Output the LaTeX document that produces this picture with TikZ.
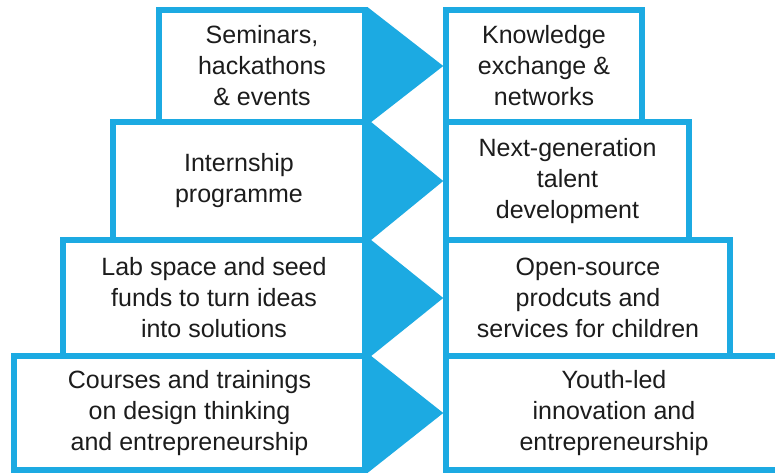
\documentclass[tikz,border=0pt]{standalone}
\usepackage{fontspec}
\setmainfont{Liberation Sans}
\definecolor{ublue}{RGB}{28,170,226}
\definecolor{utext}{RGB}{28,28,28}
\begin{document}
\begin{tikzpicture}[x=1pt,y=-1pt,
  box/.style={draw=ublue, line width=5.5pt, fill=white, inner sep=0pt,
    text=utext, align=center, font=\fontsize{25}{31}\selectfont},
  chev/.style={fill=ublue, draw=none}]
\useasboundingbox (0,0) rectangle (775,475);
\fill[white] (0,0) rectangle (775,475);
% left column
\node[box, minimum width=206pt, minimum height=112pt] (L1) at (262,66) {Seminars,\\hackathons\\\& events};
\node[box, minimum width=252pt, minimum height=118pt] (L2) at (239,181) {Internship\\programme};
\node[box, minimum width=302pt, minimum height=116pt] (L3) at (214,298) {Lab space and seed\\funds to turn ideas\\into solutions};
\node[box, minimum width=351pt, minimum height=114pt] (L4) at (189.5,413) {Courses and trainings\\on design thinking\\and entrepreneurship};
% right column
\node[box, minimum width=196pt, minimum height=112pt] (R1) at (544,66) {Knowledge\\exchange \&\\networks};
\node[box, minimum width=243pt, minimum height=118pt] (R2) at (567.5,181) {Next-generation\\talent\\development};
\node[box, minimum width=284pt, minimum height=116pt] (R3) at (588,298) {Open-source\\prodcuts and\\services for children};
\node[box, minimum width=336pt, minimum height=114pt] (R4) at (614,413) {Youth-led\\innovation and\\entrepreneurship};
% arrows
\foreach \i in {1,2,3,4}{
  \fill[ublue] (L\i.north east) -- (R\i.west) -- (L\i.south east) -- cycle;
}
\end{tikzpicture}
\end{document}
